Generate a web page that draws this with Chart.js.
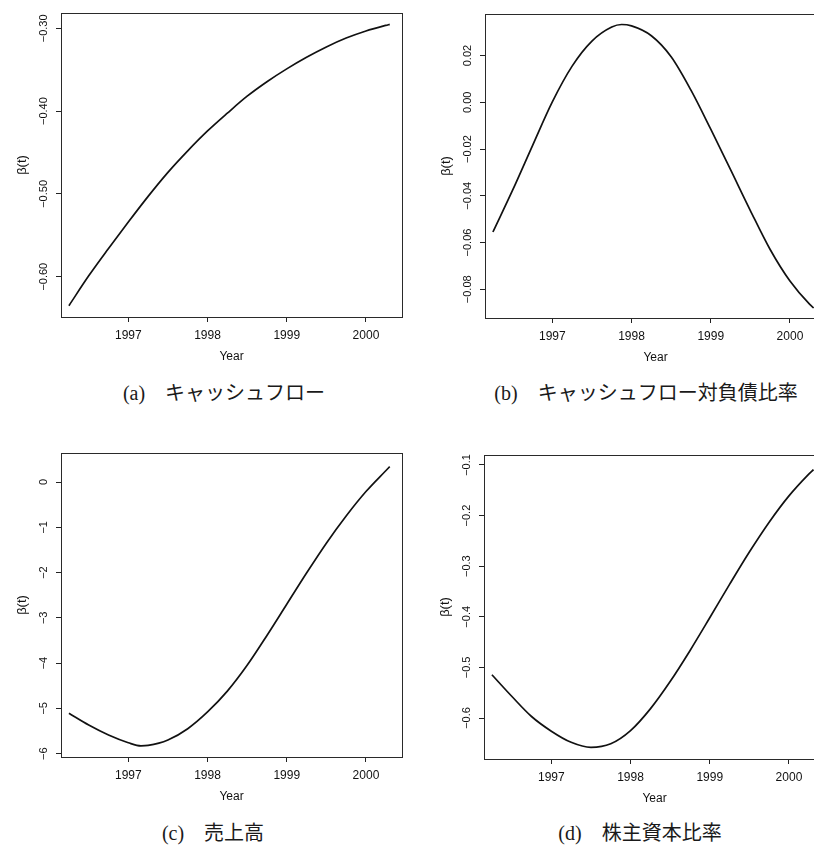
<!DOCTYPE html>
<html>
<head>
<meta charset="utf-8">
<script src="https://cdn.jsdelivr.net/npm/chart.js@4.4.1/dist/chart.umd.min.js"></script>
<style>
  html, body { margin:0; padding:0; background:#fff; width:814px; height:845px; overflow:hidden; position:relative; }
  canvas { position:absolute; }
  .cap { position:absolute; height:30px; line-height:30px; white-space:nowrap;
         font-family:"Liberation Serif","Noto Sans CJK JP",serif; font-size:20px; color:#1a1a1a;
         transform:translateX(-50%); }
</style>
</head>
<body>
<canvas id="ca"></canvas>
<canvas id="cb"></canvas>
<canvas id="cc"></canvas>
<canvas id="cd"></canvas>
<div class="cap" id="capA"></div>
<div class="cap" id="capB"></div>
<div class="cap" id="capC"></div>
<div class="cap" id="capD"></div>
<script>
// ---------- data ----------
const xTicks = [1997, 1998, 1999, 2000];
const xLabels = ['1997', '1998', '1999', '2000'];

const captionA = '(a)\u3000キャッシュフロー';
const captionB = '(b)\u3000キャッシュフロー対負債比率';
const captionC = '(c)\u3000売上高';
const captionD = '(d)\u3000株主資本比率';

const yearsA = [1996.25, 1996.5, 1996.75, 1997, 1997.25, 1997.5, 1997.75, 1998, 1998.25, 1998.5, 1998.75, 1999, 1999.25, 1999.5, 1999.75, 2000, 2000.25, 2000.3];
const valuesA = [-0.635, -0.599, -0.566, -0.534, -0.503, -0.474, -0.448, -0.424, -0.4025, -0.382, -0.3645, -0.349, -0.335, -0.3225, -0.3118, -0.3032, -0.2965, -0.2953];
const yTicksA = [-0.6, -0.5, -0.4, -0.3];
const yLabelsA = ['\u22120.60', '\u22120.50', '\u22120.40', '\u22120.30'];

const yearsB = [1996.25, 1996.5, 1996.75, 1997, 1997.25, 1997.5, 1997.75, 1997.875, 1998, 1998.25, 1998.5, 1998.75, 1999, 1999.25, 1999.5, 1999.75, 2000, 2000.25, 2000.3];
const valuesB = [-0.0555, -0.0375, -0.0185, 0.0002, 0.0155, 0.0262, 0.0322, 0.0333, 0.0327, 0.0285, 0.0195, 0.0052, -0.0115, -0.0288, -0.0463, -0.0630, -0.0765, -0.0865, -0.0880];
const yTicksB = [-0.08, -0.06, -0.04, -0.02, 0, 0.02];
const yLabelsB = ['\u22120.08', '\u22120.06', '\u22120.04', '\u22120.02', '0.00', '0.02'];

const yearsC = [1996.25, 1996.5, 1996.75, 1997, 1997.16, 1997.25, 1997.5, 1997.75, 1998, 1998.25, 1998.5, 1998.75, 1999, 1999.25, 1999.5, 1999.75, 2000, 2000.25, 2000.3];
const valuesC = [-5.11, -5.37, -5.59, -5.76, -5.83, -5.82, -5.70, -5.45, -5.08, -4.62, -4.05, -3.39, -2.70, -2.01, -1.35, -0.75, -0.21, 0.25, 0.34];
const yTicksC = [-6, -5, -4, -3, -2, -1, 0];
const yLabelsC = ['\u22126', '\u22125', '\u22124', '\u22123', '\u22122', '\u22121', '0'];

const yearsD = [1996.25, 1996.5, 1996.75, 1997, 1997.25, 1997.5, 1997.75, 1998, 1998.25, 1998.5, 1998.75, 1999, 1999.25, 1999.5, 1999.75, 2000, 2000.25, 2000.31];
const valuesD = [-0.5145, -0.557, -0.597, -0.626, -0.648, -0.658, -0.651, -0.625, -0.582, -0.528, -0.467, -0.402, -0.336, -0.272, -0.213, -0.161, -0.118, -0.109];
const yTicksD = [-0.6, -0.5, -0.4, -0.3, -0.2, -0.1];
const yLabelsD = ['\u22120.6', '\u22120.5', '\u22120.4', '\u22120.3', '\u22120.2', '\u22120.1'];

// ---------- drawing ----------
const FONT = 'Liberation Sans';
const INK = '#111';
const X_MIN = 1996.15, X_MAX = 2000.455;

const boxPlugin = {
  id: 'box',
  afterDatasetsDraw(chart) {
    const { ctx, chartArea: a } = chart;
    ctx.save();
    ctx.strokeStyle = '#2a2a2a';
    ctx.lineWidth = 1;
    ctx.strokeRect(Math.round(a.left) + 0.5, Math.round(a.top) + 0.5,
                   Math.round(a.right - a.left), Math.round(a.bottom - a.top));
    ctx.restore();
  }
};

function makePanel(p) {
  const canvas = document.getElementById(p.id);
  const yW = 46, topPad = 13, rightPad = 6, xH = 47;
  const cx = p.left - yW, cy = p.top - topPad;
  const cw = p.right + rightPad - cx, ch = p.bottom + xH - cy;
  canvas.width = cw; canvas.height = ch;
  canvas.style.left = cx + 'px'; canvas.style.top = cy + 'px';
  canvas.style.width = cw + 'px'; canvas.style.height = ch + 'px';

  const m = document.createElement('canvas').getContext('2d');
  m.font = '11px ' + FONT;
  const widest = Math.max(...p.yLabels.map(s => m.measureText(s).width));
  const yPad = 17 - 5 - widest / 2;

  const gridOpts = { display: true, drawOnChartArea: false, drawTicks: true, tickLength: 5, color: '#222', lineWidth: 1 };

  new Chart(canvas, {
    type: 'line',
    data: {
      datasets: [{
        data: p.years.map((x, i) => ({ x: x, y: p.values[i] })),
        borderColor: INK, borderWidth: 1.7, pointRadius: 0,
        cubicInterpolationMode: 'monotone', fill: false
      }]
    },
    options: {
      responsive: false, animation: false, devicePixelRatio: 1,
      layout: { padding: { left: 0, top: topPad, right: rightPad, bottom: 0 } },
      plugins: { legend: { display: false }, tooltip: { enabled: false }, title: { display: false } },
      scales: {
        x: {
          type: 'linear', min: X_MIN, max: X_MAX,
          afterBuildTicks: s => { s.ticks = xTicks.map(v => ({ value: v })); },
          afterFit: s => { s.height = xH; },
          grid: gridOpts, border: { display: false },
          ticks: { autoSkip: false, minRotation: 0, maxRotation: 0, padding: 6, color: INK,
                   font: { family: FONT, size: 12 }, callback: (v, i) => xLabels[i] },
          title: { display: true, text: 'Year', color: INK, padding: 0,
                   font: { family: FONT, size: 12, lineHeight: 1.2 } }
        },
        y: {
          type: 'linear', min: p.yMin, max: p.yMax,
          afterBuildTicks: s => { s.ticks = p.yTicks.map(v => ({ value: v })); },
          afterFit: s => { s.width = yW; },
          grid: gridOpts, border: { display: false },
          ticks: { autoSkip: false, minRotation: 90, maxRotation: 90, crossAlign: 'center', padding: yPad,
                   color: INK, font: { family: FONT, size: 11 }, callback: (v, i) => p.yLabels[i] },
          title: { display: true, text: 'β(t)', color: INK, padding: 0,
                   font: { family: FONT, size: 13, lineHeight: 1.1 } }
        }
      }
    },
    plugins: [boxPlugin]
  });
}

makePanel({ id: 'ca', left: 61, top: 13, right: 402, bottom: 317, yMin: -0.6487, yMax: -0.2815,
            years: yearsA, values: valuesA, yTicks: yTicksA, yLabels: yLabelsA });
makePanel({ id: 'cb', left: 485, top: 14, right: 826, bottom: 318, yMin: -0.0923, yMax: 0.0378,
            years: yearsB, values: valuesB, yTicks: yTicksB, yLabels: yLabelsB });
makePanel({ id: 'cc', left: 61, top: 453, right: 402, bottom: 757, yMin: -6.075, yMax: 0.642,
            years: yearsC, values: valuesC, yTicks: yTicksC, yLabels: yLabelsC });
makePanel({ id: 'cd', left: 484, top: 455, right: 825, bottom: 759, yMin: -0.681, yMax: -0.0803,
            years: yearsD, values: valuesD, yTicks: yTicksD, yLabels: yLabelsD });

function placeCaption(id, text, x, y) {
  const d = document.getElementById(id);
  d.textContent = text;
  d.style.left = x + 'px';
  d.style.top = (y - 15) + 'px';
}
placeCaption('capA', captionA, 224, 393);
placeCaption('capB', captionB, 646, 393);
placeCaption('capC', captionC, 213, 833);
placeCaption('capD', captionD, 640, 833);
</script>
</body>
</html>
